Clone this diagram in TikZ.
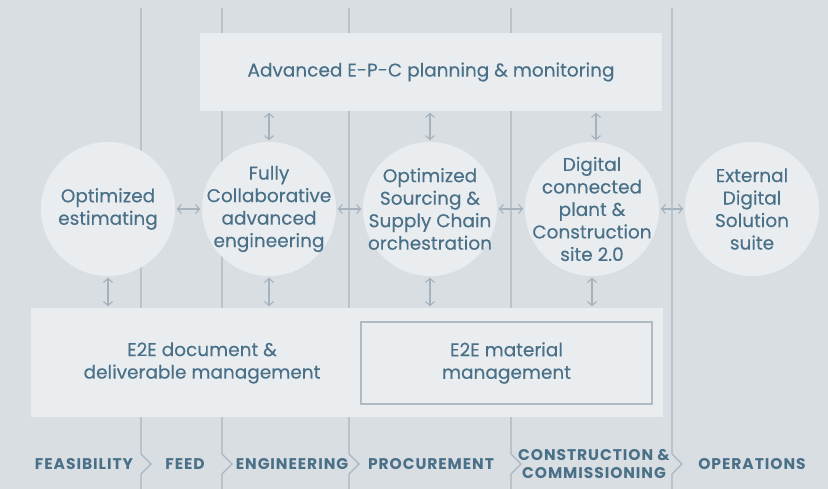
\documentclass[tikz,border=0pt]{standalone}
\usepackage{fontspec}
\setmainfont{Poppins}
\newfontfamily\medfont[FakeBold=0.25]{Poppins}
\usetikzlibrary{arrows.meta,calc}
\definecolor{bg}{HTML}{D9DEE3}
\definecolor{panel}{HTML}{E9EDF0}
\definecolor{ink}{HTML}{4A7088}
\definecolor{divider}{HTML}{A9B6C1}
\definecolor{arrowc}{HTML}{A6B2BC}
\definecolor{frame}{HTML}{AEBAC4}
\tikzset{
  bodyfont/.style={font=\medfont\fontsize{18.5}{22.5}\selectfont},
  circ/.style={circle,fill=panel,minimum size=134pt,inner sep=0pt},
  panelbox/.style={rectangle,fill=panel,inner sep=0pt,align=center,text=ink,bodyfont},
  txt/.style={align=center,text=ink,bodyfont,inner sep=0pt},
  phase/.style={align=center,text=ink,font=\fontsize{15.5}{18}\selectfont\bfseries\addfontfeature{LetterSpace=6}},
  dline/.style={draw=divider,line width=1.3pt},
  dar/.style={draw=arrowc,line width=1.1pt,{Straight Barb[length=4pt,width=9pt]}-{Straight Barb[length=4pt,width=9pt]},shorten <=1.5pt,shorten >=1.5pt},
}
\begin{document}
\begin{tikzpicture}[x=1pt,y=-1pt]
\fill[bg] (0,0) rectangle (828,489);
\useasboundingbox (0,0) rectangle (828,489);
% phase dividers
\foreach \xx in {141,222,349,511,672}{
  \draw[dline] (\xx,8) -- (\xx,454) -- (\xx+10,464) -- (\xx,474) -- (\xx,489);
}
% top box
\node[panelbox,minimum width=462pt,minimum height=78pt] (top) at (431,72) {Advanced E-P-C planning \& monitoring};
% bottom boxes
\node[panelbox,minimum width=632pt,minimum height=109pt] (bot) at (347,362.5) {};
\node[txt] (doc) at (202,363) {E2E document \&\\deliverable management};
\node[panelbox,draw=frame,line width=1.2pt,minimum width=291pt,minimum height=82pt] (mat) at (506.5,363) {E2E material\\management};
% circles
\node[circ] (c1) at (108,209) {};
\node[circ] (c2) at (269,209) {};
\node[circ] (c3) at (430,209) {};
\node[circ] (c4) at (592,209) {};
\node[circ] (c5) at (752,209) {};
\node[txt] (t1) at (c1.center) {Optimized\\estimating};
\node[txt] (t2) at (c2.center) {Fully\\Collaborative\\advanced\\engineering};
\node[txt] (t3) at (c3.center) {Optimized\\Sourcing \&\\Supply Chain\\orchestration};
\node[txt] (t4) at (c4.center) {Digital\\connected\\plant \&\\Construction\\site 2.0};
\node[txt] (t5) at (c5.center) {External\\Digital\\Solution\\suite};
% horizontal arrows
\draw[dar] (c1.east) -- (c2.west);
\draw[dar] (c2.east) -- (c3.west);
\draw[dar] (c3.east) -- (c4.west);
\draw[dar] (c4.east) -- (c5.west);
% top arrows
\draw[dar] (c2.north |- top.south) -- (c2.north);
\draw[dar] (c3.north |- top.south) -- (c3.north);
\draw[dar] ([xshift=4pt]c4.north |- top.south) -- ([xshift=4pt]c4.north);
% bottom arrows
\draw[dar] (c1.south) -- (c1.south |- bot.north);
\draw[dar] (c2.south) -- (c2.south |- bot.north);
\draw[dar] (c3.south) -- (c3.south |- bot.north);
\draw[dar] (c4.south) -- (c4.south |- bot.north);
% phase labels
\node[phase] (p1) at (84,464) {FEASIBILITY};
\node[phase] (p2) at (185,464) {FEED};
\node[phase] (p3) at (292,464) {ENGINEERING};
\node[phase] (p4) at (431,464) {PROCUREMENT};
\node[phase] (p5) at (594,464) {CONSTRUCTION \&\\COMMISSIONING};
\node[phase] (p6) at (752,464) {OPERATIONS};
\end{tikzpicture}
\end{document}
